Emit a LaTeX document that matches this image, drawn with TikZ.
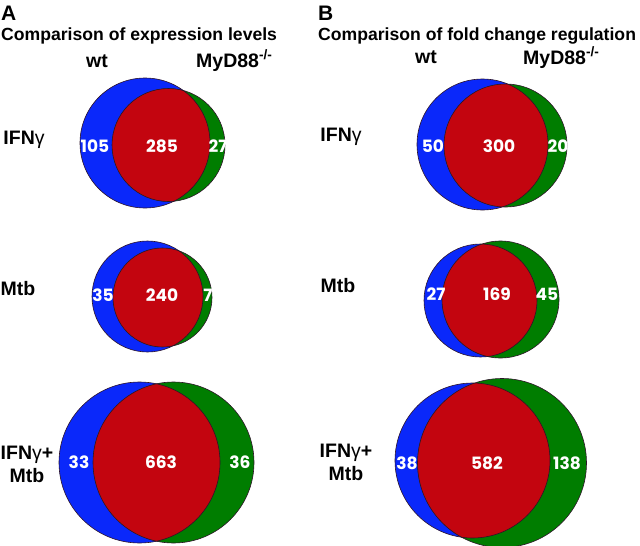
\documentclass[tikz,border=0pt]{standalone}
\usepackage{fontspec}
\setmainfont{Liberation Sans}
\newfontfamily\numfont{Poppins}
\usepackage{xcolor}
\definecolor{vennblue}{RGB}{10,40,250}
\definecolor{venngreen}{RGB}{0,125,0}
\definecolor{vennred}{RGB}{195,5,15}
\definecolor{vennedge}{RGB}{45,20,40}

\tikzset{
  panelletter/.style={font=\bfseries\fontsize{21}{21}\selectfont, inner sep=0pt},
  paneltitle/.style={font=\bfseries\fontsize{17.6}{18}\selectfont, inner sep=0pt},
  grouplabel/.style={font=\bfseries\fontsize{19.5}{20}\selectfont, inner sep=0pt},
  rowlabel/.style={font=\bfseries\fontsize{19.5}{23}\selectfont, align=center, inner sep=0pt},
  vennnum/.style={font=\numfont\bfseries\fontsize{17}{17}\selectfont, text=white, inner sep=0pt},
  vennline/.style={draw=vennedge, line width=0.6pt}
}

\begin{document}
\begin{tikzpicture}[x=1pt, y=-1pt]
    \useasboundingbox (0,0) rectangle (640,546);

    % Panel headers
    \node[panelletter, anchor=base west] (A) at (1,20) {A};
    \node[paneltitle, anchor=base west] (titleA) at (1,40) {Comparison of expression levels};
    \node[panelletter, anchor=base west] (B) at (318,20) {B};
    \node[paneltitle, anchor=base west] (titleB) at (318,40) {Comparison of fold change regulation};

    % Column heads
    \node[grouplabel, anchor=base] (wtA) at (97,67) {wt};
    \node[grouplabel, anchor=base west] (koA) at (196,67) {MyD88\textsuperscript{-/-}};
    \node[grouplabel, anchor=base] (wtB) at (426,63) {wt};
    \node[grouplabel, anchor=base west] (koB) at (523,64) {MyD88\textsuperscript{-/-}};

    % Row labels
    \node[rowlabel, anchor=base] (ifnA) at (24,144) {IFN{\mdseries γ}};
    \node[rowlabel, anchor=base] (mtbA) at (18,295) {Mtb};
    \node[rowlabel] (bothA) at (27,464) {IFN{\mdseries γ}+\\Mtb};
    \node[rowlabel, anchor=base] (ifnB) at (341,141) {IFN{\mdseries γ}};
    \node[rowlabel, anchor=base] (mtbB) at (338,292) {Mtb};
    \node[rowlabel] (bothB) at (346,462) {IFN{\mdseries γ}+\\Mtb};

    % Six Venn diagrams: wt circle, MyD88 circle, shared genes in the overlap
    \foreach \bx/\by/\br/\gx/\gy/\gr/\ny/\lx/\lv/\mx/\mv/\rx/\rv [count=\i] in {
      145/143/65/168.5/145/56.5/146/95/105/162/285/218/27,
      147.5/296.5/55.5/162.5/297.5/49.5/295/103/35/162/240/208/7,
      139.5/462.5/80.5/173.5/462.5/80.5/462/79/33/161/663/240/36,
      482.5/144.5/65.5/505.5/145.5/61.5/146/433/50/499/300/558/20,
      480.5/300.5/56.5/500.5/299.5/58.5/294/436/27/497/169/547/45,
      472.5/460.5/77.5/502/463/84.5/463/407/38/487/582/567/138
    } {
      \fill[vennblue] (\bx,\by) circle (\br pt);
      \fill[venngreen] (\gx,\gy) circle (\gr pt);
      \begin{scope}
        \clip (\bx,\by) circle (\br pt);
        \fill[vennred] (\gx,\gy) circle (\gr pt);
      \end{scope}
      \draw[vennline] (\bx,\by) circle (\br pt);
      \draw[vennline] (\gx,\gy) circle (\gr pt);
      \node[vennnum] (wt\i) at (\lx,\ny) {\lv};
      \node[vennnum] (both\i) at (\mx,\ny) {\mv};
      \node[vennnum] (ko\i) at (\rx,\ny) {\rv};
    }
\end{tikzpicture}
\end{document}
